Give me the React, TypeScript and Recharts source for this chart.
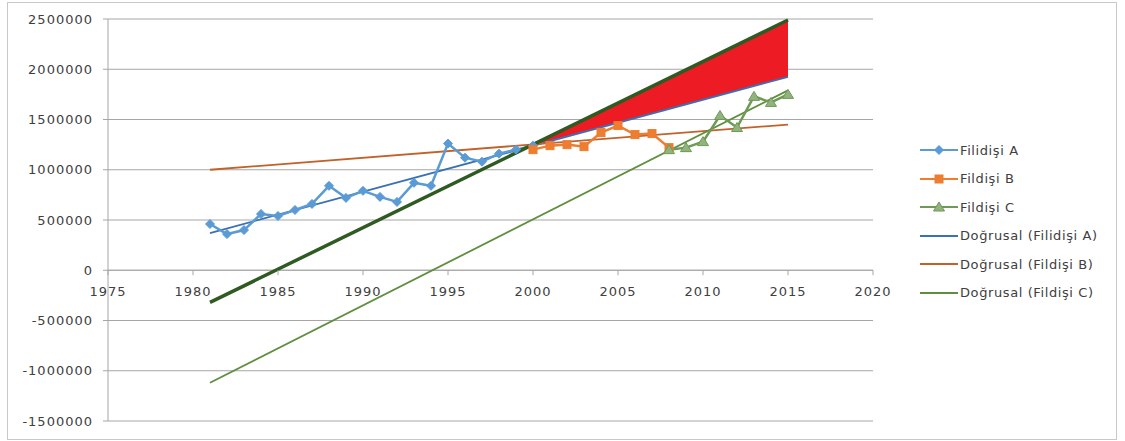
import React from "react";
import {
  Area,
  CartesianGrid,
  ComposedChart,
  Line,
  ReferenceLine,
  XAxis,
  YAxis,
} from "recharts";

// yearly values
const yearsA = [1981, 1982, 1983, 1984, 1985, 1986, 1987, 1988, 1989, 1990, 1991, 1992, 1993, 1994, 1995, 1996, 1997, 1998, 1999, 2000];
const valuesA = [460000, 360000, 400000, 560000, 540000, 600000, 660000, 840000, 720000, 790000, 730000, 680000, 870000, 840000, 1260000, 1120000, 1080000, 1160000, 1200000, 1240000];

const yearsB = [2000, 2001, 2002, 2003, 2004, 2005, 2006, 2007, 2008];
const valuesB = [1200000, 1240000, 1250000, 1230000, 1370000, 1440000, 1350000, 1360000, 1220000];

const yearsC = [2008, 2009, 2010, 2011, 2012, 2013, 2014, 2015];
const valuesC = [1200000, 1220000, 1280000, 1540000, 1420000, 1730000, 1670000, 1750000];

// linear trends (end points)
const trendYears = [1981, 2015];
const trendA = [370000, 1925000];
const trendB = [1000000, 1450000];
const trendC = [-1120000, 1790000];
const thickLine = [-320000, 2490000];

// red wedge between the thick line and trend A
const bandYears = [2000, 2015];
const bandLow = [1245000, 1925000];
const bandHigh = [1255000, 2480000];

const xTicks = [1975, 1980, 1985, 1990, 1995, 2000, 2005, 2010, 2015, 2020];
const yTicks = [-1500000, -1000000, -500000, 0, 500000, 1000000, 1500000, 2000000, 2500000];

const legendItems = [
  { name: "Filidişi A", color: "#5B9BD5", marker: "diamond" },
  { name: "Fildişi B", color: "#ED7D31", marker: "square" },
  { name: "Fildişi C", color: "#6E9A55", marker: "triangle" },
  { name: "Doğrusal (Filidişi A)", color: "#3A70B4", marker: "" },
  { name: "Doğrusal (Fildişi B)", color: "#C0622A", marker: "" },
  { name: "Doğrusal (Fildişi C)", color: "#5E8E3E", marker: "" },
];

type Row = { year: number; [k: string]: any };

const rows: Row[] = [];
const rowFor = (year: number) => {
  let r = rows.find((d) => d.year === year);
  if (!r) {
    r = { year };
    rows.push(r);
  }
  return r;
};
yearsA.forEach((y, i) => (rowFor(y).a = valuesA[i]));
yearsB.forEach((y, i) => (rowFor(y).b = valuesB[i]));
yearsC.forEach((y, i) => (rowFor(y).c = valuesC[i]));
trendYears.forEach((y, i) => {
  const r = rowFor(y);
  r.ta = trendA[i];
  r.tb = trendB[i];
  r.tc = trendC[i];
  r.thick = thickLine[i];
});
bandYears.forEach((y, i) => (rowFor(y).band = [bandLow[i], bandHigh[i]]));
rows.sort((p, q) => p.year - q.year);

const W = 1108;
const H = 436;
const MARGIN = { top: 16, right: 243, bottom: 0, left: 0 };
const X_AXIS_H = 18;
const Y_MIN = -1500000;
const Y_MAX = 2500000;
const PLOT_H = H - MARGIN.top - MARGIN.bottom - X_AXIS_H;
const ZERO_OFFSET = (PLOT_H * (0 - Y_MIN)) / (Y_MAX - Y_MIN);

const AXIS = "#a6a6a6";
const TEXT = "#404040";
const FONT = "'DejaVu Sans', sans-serif";

function XTick({ x, y, payload }: any) {
  return (
    <g transform={`translate(${x},${y - ZERO_OFFSET})`}>
      <line y1={0} y2={5} stroke={AXIS} />
      <text y={21} dy="0.35em" textAnchor="middle" fill={TEXT} fontSize={13} fontFamily={FONT} letterSpacing={1}>
        {payload.value}
      </text>
    </g>
  );
}

function shape(kind: string, cx: number, cy: number, fill: string, stroke: string, key?: any) {
  if (kind === "diamond") {
    return <path key={key} d={`M${cx},${cy - 4.5}L${cx + 4.5},${cy}L${cx},${cy + 4.5}L${cx - 4.5},${cy}Z`} fill={fill} stroke={stroke} />;
  }
  if (kind === "square") {
    return <rect key={key} x={cx - 4} y={cy - 4} width={8} height={8} fill={fill} stroke={stroke} />;
  }
  if (kind === "triangle") {
    return <path key={key} d={`M${cx},${cy - 5}L${cx + 5.5},${cy + 4}L${cx - 5.5},${cy + 4}Z`} fill={fill} stroke={stroke} />;
  }
  return <g key={key} />;
}

const dotFn = (kind: string, fill: string, stroke: string) => (p: any) => {
  if (p.cx == null || p.cy == null || p.value == null) return <g key={p.index} />;
  return shape(kind, p.cx, p.cy, fill, stroke, p.index);
};

function LegendBox() {
  return (
    <div style={{ position: "absolute", left: 912, top: 133, fontFamily: FONT, fontSize: 13, letterSpacing: 0.6, color: TEXT }}>
      {legendItems.map((it) => (
        <div key={it.name} style={{ display: "flex", alignItems: "center", height: 28.5 }}>
          <svg width={40} height={12} style={{ marginRight: 0 }}>
            <line x1={0} y1={6} x2={38} y2={6} stroke={it.color} strokeWidth={2} />
            {shape(it.marker, 19, 6, it.marker === "triangle" ? "#92B27F" : it.color, it.marker === "triangle" ? "#6E9A55" : it.color)}
          </svg>
          <span>{it.name}</span>
        </div>
      ))}
    </div>
  );
}

export default function App() {
  return (
    <div style={{ position: "absolute", left: 7, top: 2, width: W, height: H, border: "1px solid #c8c8c8", background: "#fff" }}>
      <ComposedChart width={W} height={H} data={rows} margin={MARGIN}>
        <CartesianGrid vertical={false} stroke={AXIS} />
        <XAxis
          dataKey="year"
          type="number"
          domain={[1975, 2020]}
          ticks={xTicks}
          height={X_AXIS_H}
          axisLine={false}
          tickLine={false}
          tickSize={0}
          tickMargin={0}
          tick={<XTick />}
          interval={0}
        />
        <YAxis
          type="number"
          domain={[Y_MIN, Y_MAX]}
          ticks={yTicks}
          width={100}
          interval={0}
          stroke={AXIS}
          tickSize={5}
          tickMargin={10}
          tickFormatter={(v) => String(v)}
          tick={{ fill: TEXT, fontSize: 13, fontFamily: FONT, letterSpacing: 1 }}
        />
        <ReferenceLine y={0} stroke={AXIS} />
        <Area dataKey="band" fill="#ED1C24" fillOpacity={1} stroke="none" connectNulls isAnimationActive={false} />
        <Line dataKey="ta" stroke="#3A70B4" strokeWidth={1.8} dot={false} connectNulls isAnimationActive={false} />
        <Line dataKey="tb" stroke="#C0622A" strokeWidth={1.8} dot={false} connectNulls isAnimationActive={false} />
        <Line dataKey="tc" stroke="#5E8E3E" strokeWidth={1.8} dot={false} connectNulls isAnimationActive={false} />
        <Line dataKey="a" stroke="#5B9BD5" strokeWidth={2.5} dot={dotFn("diamond", "#5B9BD5", "#5B9BD5")} isAnimationActive={false} />
        <Line dataKey="b" stroke="#ED7D31" strokeWidth={2.5} dot={dotFn("square", "#ED7D31", "#ED7D31")} isAnimationActive={false} />
        <Line dataKey="c" stroke="#6E9A55" strokeWidth={2.5} dot={dotFn("triangle", "#92B27F", "#6E9A55")} isAnimationActive={false} />
        <Line dataKey="thick" stroke="#2F5A22" strokeWidth={3.5} dot={false} connectNulls isAnimationActive={false} />
      </ComposedChart>
      <LegendBox />
    </div>
  );
}
